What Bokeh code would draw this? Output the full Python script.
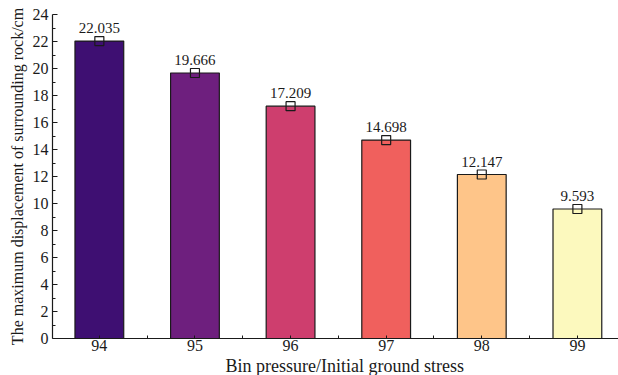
from bokeh.plotting import figure
from bokeh.models import Range1d, FixedTicker, ColumnDataSource, Title
from bokeh.core.properties import value
from bokeh.embed import file_html
from bokeh.resources import INLINE

# Ratio of bin pressure to initial ground stress (%) and the resulting
# maximum displacement of the surrounding rock (cm)
ratios = [94, 95, 96, 97, 98, 99]
displacement = [22.035, 19.666, 17.209, 14.698, 12.147, 9.593]
bar_colors = ["#3E0F72", "#6E1F7E", "#CE3E6E", "#F0605D", "#FEC589", "#FCF9BE"]
y_ticks = [0, 2, 4, 6, 8, 10, 12, 14, 16, 18, 20, 22, 24]

FONT = "Liberation Serif"
INK = "#1a1a1a"

source = ColumnDataSource(dict(
    x=ratios,
    top=displacement,
    color=bar_colors,
    label=[f"{v:.3f}" for v in displacement],
))

p = figure(
    width=618, height=375,
    x_range=Range1d(93.51, 99.43), y_range=Range1d(0, 24),
    output_backend="svg", toolbar_location=None,
    min_border_left=52, min_border_right=0,
    min_border_top=14, min_border_bottom=0,
)
p.outline_line_color = None
p.background_fill_color = "white"
p.border_fill_color = "white"
p.xgrid.visible = False
p.ygrid.visible = False

p.vbar(x="x", top="top", width=0.51, source=source,
       fill_color="color", line_color=INK, line_width=1.2)
p.scatter(x="x", y="top", source=source, marker="square", size=9,
          fill_alpha=0, line_color=INK, line_width=1.2)
p.text(x="x", y="top", text="label", source=source,
       text_align="center", text_baseline="bottom", y_offset=-8,
       text_font=value(FONT), text_font_size="15px", text_color=INK)

# x axis: category ticks with small minor ticks between the bars
xa = p.xaxis[0]
xa.ticker = FixedTicker(ticks=ratios,
                        minor_ticks=[r + 0.5 for r in ratios[:-1]])
xa.major_tick_in = 3
xa.major_tick_out = 0
xa.minor_tick_in = 3
xa.minor_tick_out = 0
xa.major_label_standoff = 1

# x axis title, set slightly right of the frame centre
p.add_layout(Title(text="Bin pressure/Initial ground stress", align="left",
                   offset=173, standoff=0, text_font=FONT,
                   text_font_size="18px", text_font_style="normal",
                   text_color=INK), "below")

# y axis
ya = p.yaxis[0]
ya.ticker = FixedTicker(ticks=y_ticks, minor_ticks=list(range(1, 24, 2)))
ya.axis_label = "The maximum displacement of surrounding rock/cm"
ya.major_tick_in = 5
ya.major_tick_out = 0
ya.minor_tick_in = 3
ya.minor_tick_out = 0
ya.major_label_standoff = 4
ya.axis_label_standoff = 4

for ax in (xa, ya):
    ax.axis_line_color = INK
    ax.axis_line_width = 1.2
    ax.major_tick_line_color = INK
    ax.minor_tick_line_color = INK
    ax.major_label_text_font = FONT
    ax.major_label_text_font_size = "16px"
    ax.major_label_text_color = INK
    ax.axis_label_text_font = FONT
    ax.axis_label_text_font_size = "16px"
    ax.axis_label_text_font_style = "normal"
    ax.axis_label_text_color = INK

open("out.html", "w").write(file_html(p, INLINE))
